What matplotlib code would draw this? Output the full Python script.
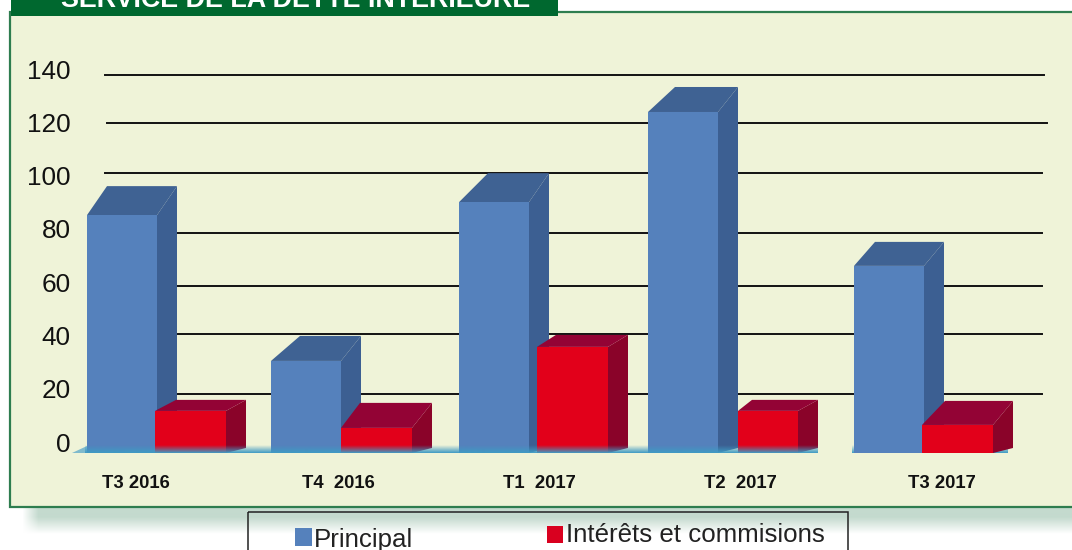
import numpy as np
import matplotlib
matplotlib.use("Agg")
import matplotlib.pyplot as plt
from matplotlib.patches import Polygon, Rectangle

plt.rcParams['font.family'] = ['Liberation Sans', 'DejaVu Sans']

# values
categories = ["T3 2016", "T4  2016", "T1  2017", "T2  2017", "T3 2017"]
principal = [88.1, 34.1, 92.9, 126.3, 69.3]
interets = [15.6, 9.3, 39.3, 15.6, 10.4]
y_ticks = [0, 20, 40, 60, 80, 100, 120, 140]
# the printed grid lines do not sit exactly on the label spacing
grid_levels = [21.9, 44.1, 61.9, 81.5, 103.7, 122.2, 140.0]

# layout in pixels
W, H = 1072, 550
Y0 = 453          # pixel of value 0
SCALE = 2.7       # pixels per unit
cat_x = [136, 338, 539, 740, 942]
blue_left = [87, 271, 459, 648, 854]
red_left = [155, 341, 537, 738, 922]
red_width = [71, 71, 71, 60, 71]
blue_top_dx = [20, 29, 29, 27, 21]
blue_top_dy = [29, 25, 29, 25, 24]
red_top_dx = [21, 19, 19, 14, 23]
red_top_dy = [11, 25, 12, 11, 24]
grid_start = [106, 106, 106, 106, 105, 107, 105]
grid_end = [1042, 1042, 1042, 1042, 1042, 1047, 1044]

BG = "#EFF3D8"
GREEN = "#00682F"
BLUE, BLUE_SIDE, BLUE_TOP = "#5581BC", "#3C5F92", "#3F6293"
RED, RED_SIDE, RED_TOP = "#E2001A", "#8A0329", "#930335"

fig = plt.figure(figsize=(W / 100, H / 100), dpi=100, facecolor="white")

# background furniture, in pixel coordinates
bg = fig.add_axes([0, 0, 1, 1], zorder=0)

shadow = np.zeros((50, W - 22, 4))
shadow[..., 0:3] = np.array([0xC4, 0xDA, 0xCE]) / 255
down = np.clip((1 - np.linspace(0, 1, 50)) * 1.6, 0, 1).reshape(-1, 1)
across = np.clip(np.arange(W - 22) / 16, 0, 1).reshape(1, -1)
shadow[..., 3] = down * across
bg.imshow(shadow, aspect="auto", extent=(22, W, 534, 507))

bg.set_xlim(0, W)
bg.set_ylim(H, 0)
bg.axis("off")
bg.add_patch(Rectangle((10, 12), W, 495, fc=BG, ec="#2E7D4F", lw=1.6))
bg.add_patch(Rectangle((11, -2), 547, 18, fc=GREEN, ec="none"))
bg.text(296, 0, "SERVICE DE LA DETTE INTÉRIEURE", color="white", fontsize=19.4,
        fontweight="bold", ha="center", va="center")

bg.add_patch(Rectangle((248, 512), 600, 50, fc="none", ec="#222222", lw=1.1))
bg.add_patch(Rectangle((295, 528), 17, 18, fc=BLUE, ec="none"))
bg.text(314, 540, "Principal", fontsize=18.6, color="#222222", va="center")
bg.add_patch(Rectangle((547, 526), 16, 17, fc="#D9001F", ec="none"))
bg.text(566, 535, "Intérêts et commisions", fontsize=18.6, color="#222222", va="center")

# chart axes: x in pixels, y in data values
ax = fig.add_axes([0, 0, 1, 1], zorder=1)
ax.patch.set_alpha(0)
ax.axis("off")


def draw_bars(lefts, widths, values, dxs, dys, front, side, top, z):
    ax.bar(lefts, values, width=widths, align="edge", color=front, zorder=z + 0.2)
    for l, w, v, dx, dy in zip(lefts, widths, values, dxs, dys):
        r = l + w
        d = dy / SCALE
        ax.add_patch(Polygon([(r, 0), (r + 20, 5 / SCALE), (r + 20, v + d), (r, v)],
                             fc=side, ec="none", zorder=z))
        ax.add_patch(Polygon([(l, v), (l + dx, v + d), (r + 20, v + d), (r, v)],
                             fc=top, ec="none", zorder=z + 0.1))


for lev, x0, x1 in zip(grid_levels, grid_start, grid_end):
    ax.plot([x0, x1], [lev, lev], color="#111111", lw=1.4, zorder=1)

# floor strip under the bars
floor = np.zeros((40, 1, 4))
floor[..., 0:3] = np.array([0x3F, 0x9A, 0xC4]) / 255
floor[..., 3] = np.linspace(0, 1, 40).reshape(-1, 1)
ax.imshow(floor, aspect="auto", extent=(85, 818, 0, 8 / SCALE), zorder=5)
ax.imshow(floor, aspect="auto", extent=(852, 1008, 0, 8 / SCALE), zorder=2)
ax.add_patch(Polygon([(72, 0), (87, 7 / SCALE), (87, 0)], fc="#7FBACD", ec="none", zorder=2))

draw_bars(blue_left, [70] * 5, principal, blue_top_dx, blue_top_dy,
          BLUE, BLUE_SIDE, BLUE_TOP, 3)
draw_bars(red_left, red_width, interets, red_top_dx, red_top_dy,
          RED, RED_SIDE, RED_TOP, 4)
ax.set_xlim(0, W)
ax.set_ylim((Y0 - H) / SCALE, Y0 / SCALE)

for x, c in zip(cat_x, categories):
    ax.text(x, (Y0 - 483) / SCALE, c, fontsize=13.3, fontweight="bold", color="#111111",
            ha="center", va="center", zorder=6)

# value labels have their own spacing in the picture
lab = fig.add_axes([72 / W, 0, 0.5, 1], zorder=2)
lab.patch.set_alpha(0)
lab.set_ylim((442 - H) / 2.664, 442 / 2.664)
lab.set_xticks([])
lab.set_yticks(y_ticks)
lab.tick_params(axis="y", length=0, pad=1, labelsize=18.8, labelcolor="#111111")
for s in lab.spines.values():
    s.set_visible(False)

fig.savefig("out.png", dpi=100)
